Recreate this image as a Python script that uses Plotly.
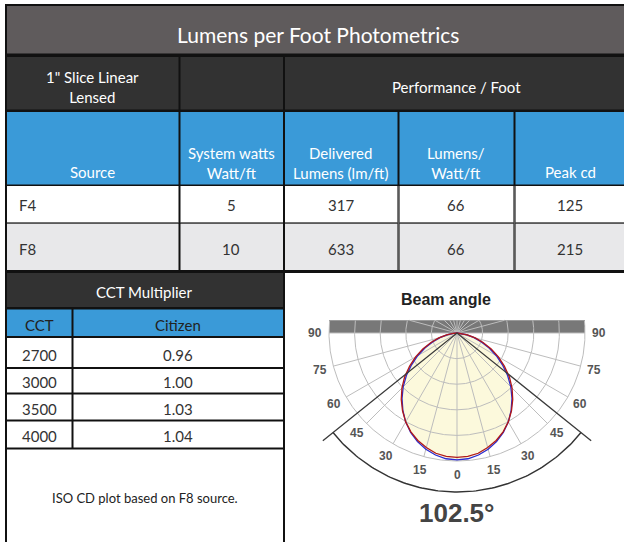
import numpy as np
import plotly.graph_objects as go

# ---------------- data ----------------
title = "Lumens per Foot Photometrics"
product = "1\" Slice Linear<br>Lensed"
group_header = "Performance / Foot"
col_headers = ["Source", "System watts<br>Watt/ft", "Delivered<br>Lumens (lm/ft)", "Lumens/<br>Watt/ft", "Peak cd"]
sources = ["F4", "F8"]
system_watts = [5, 10]
delivered_lumens = [317, 633]
lumens_per_watt = [66, 66]
peak_cd = [125, 215]

cct_title = "CCT Multiplier"
cct_headers = ["CCT", "Citizen"]
cct_values = [2700, 3000, 3500, 4000]
citizen_mult = ["0.96", "1.00", "1.03", "1.04"]
note = "ISO CD plot based on F8 source."

beam_title = "Beam angle"
beam_angle = 102.5
angles_deg = [0, 5, 10, 15, 20, 25, 30, 35, 40, 45, 50, 55, 60, 65, 70, 75, 80, 85, 90]
cd_plane_a = [215, 214, 210, 204, 196, 186, 174, 160, 145, 129, 112, 94, 77, 60, 44, 29, 16, 6, 0]
cd_plane_b = [211, 210, 207, 201, 194, 185, 174, 161, 147, 132, 116, 98, 81, 64, 47, 32, 18, 7, 0]
grid_angle_labels = [0, 15, 30, 45, 60, 75, 90]

# ---------------- layout helpers ----------------
W, H = 624, 542
FONT = "Lato"
shapes, annots = [], []


def px(x):
    return x / W


def py(y):
    return 1 - y / H


def rect(x0, x1, y0, y1, color):
    shapes.append(dict(type="rect", xref="paper", yref="paper", x0=px(x0), x1=px(x1),
                       y0=py(y1), y1=py(y0), fillcolor=color, line_width=0, layer="below"))


def hline(x0, x1, y, color, w):
    shapes.append(dict(type="line", xref="paper", yref="paper", x0=px(x0), x1=px(x1),
                       y0=py(y), y1=py(y), line=dict(color=color, width=w), layer="below"))


def vline(x, y0, y1, color, w):
    shapes.append(dict(type="line", xref="paper", yref="paper", x0=px(x), x1=px(x),
                       y0=py(y0), y1=py(y1), line=dict(color=color, width=w), layer="below"))


def text(x, y, s, size=15, color="#333333", anchor="center", family=FONT, bold=False):
    if bold:
        s = "<b>" + s + "</b>"
    annots.append(dict(xref="paper", yref="paper", x=px(x), y=py(y), text=s, showarrow=False,
                       xanchor=anchor, yanchor="middle",
                       font=dict(family=family, size=size, color=color)))


DARK = "#323232"
TITLE_GRAY = "#5f5b5c"
BLUE = "#3a9ad8"
ROW_GRAY = "#e8e8ea"
WHITE = "#ffffff"

# black background = borders
rect(5, 624, 4, 542, "#111111")
# title row
rect(7, 624, 6, 53.5, TITLE_GRAY)
# dark row
rect(7, 178.5, 57, 109.5, DARK)
rect(180.5, 283, 57, 109.5, DARK)
rect(285, 624, 57, 109.5, DARK)
# blue header row
col_x = [(7, 178.5), (180.5, 283), (285, 397.5), (399.5, 513.5), (515.5, 624)]
for x0, x1 in col_x:
    rect(x0, x1, 112, 184.5, BLUE)
# data rows
for x0, x1 in col_x:
    rect(x0, x1, 186, 222.5, WHITE)
    rect(x0, x1, 224, 270, ROW_GRAY)
# soft inner lines of data rows
for x in (398.5, 514.5):
    vline(x, 186, 270, "#5a5a5a", 1.6)
for (x0, x1) in col_x:
    hline(x0, x1, 223.2, "#5a5a5a", 1.6)
# CCT table
rect(7, 283, 273, 307, DARK)
rect(7, 71.5, 309.5, 336, BLUE)
rect(73.5, 283, 309.5, 336, BLUE)
cct_rows = [(338, 367), (369, 392.5), (394.5, 419.5), (421.5, 447.5)]
for y0, y1 in cct_rows:
    rect(7, 71.5, y0, y1, WHITE)
    rect(73.5, 283, y0, y1, WHITE)
rect(7, 283, 449.5, 542, WHITE)
# right panel
rect(285, 624, 273, 542, WHITE)

# texts
text(318, 34, title, size=21, color="#ffffff")
text(92, 86.5, product, size=15, color="#ffffff")
text(456, 87, group_header, size=15, color="#ffffff")
header_cx = [92, 231, 341, 456, 570]
for cx, h in zip(header_cx, col_headers):
    yc = 172 if "<br>" not in h else 162.5
    text(cx, yc, h, size=15, color="#ffffff")
row_y = [205, 249]
for i, yy in enumerate(row_y):
    text(17, yy, sources[i], size=15, anchor="left")
    text(231, yy, str(system_watts[i]), size=15)
    text(341, yy, str(delivered_lumens[i]), size=15)
    text(456, yy, str(lumens_per_watt[i]), size=15)
    text(570, yy, str(peak_cd[i]), size=15)
text(144, 292, cct_title, size=15, color="#ffffff")
text(39, 325, cct_headers[0], size=15, color="#222222")
text(178, 325, cct_headers[1], size=15, color="#222222")
cct_ty = [355, 382, 409, 436]
for yy, c, m in zip(cct_ty, cct_values, citizen_mult):
    text(39, yy, str(c), size=15)
    text(178, yy, m, size=15)
text(145, 498, note, size=13, color="#222222")
text(446, 299, beam_title, size=16, color="#222222", family="Liberation Sans", bold=True)
text(456, 513, f"{beam_angle}°", size=26, color="#444444", family="Liberation Sans", bold=True)

# ---------------- polar (drawn on a cartesian subplot) ----------------
R = 217.0                 # outer ring value in cd
S = 128.0 / R             # pixels per cd
CX, CY = 457.0, 333.0     # centre in page pixels
dom_x = (288, 622)
dom_y = (276, 540)
xr = [(dom_x[0] - CX) / S, (dom_x[1] - CX) / S]
yr = [(CY - dom_y[1]) / S, (CY - dom_y[0]) / S]
BAR_H = 12.7 / S

fig = go.Figure()

# bar behind the grid
shapes.append(dict(type="rect", xref="x", yref="y", x0=-R, x1=R, y0=0, y1=BAR_H,
                   fillcolor="#787878", line_width=0, layer="below"))

# beam fill
ang = np.radians(np.array(angles_deg, dtype=float))
full_ang = np.concatenate([-ang[::-1], ang[1:]])
a_vals = np.array(cd_plane_a, dtype=float)
b_vals = np.array(cd_plane_b, dtype=float)
a_full = np.concatenate([a_vals[::-1], a_vals[1:]])
b_full = np.concatenate([b_vals[::-1], b_vals[1:]])
ax_ = a_full * np.sin(full_ang)
ay_ = -a_full * np.cos(full_ang)
bx_ = b_full * np.sin(full_ang)
by_ = -b_full * np.cos(full_ang)
fig.add_trace(go.Scatter(x=ax_, y=ay_, mode="lines", fill="toself", fillcolor="#fcf9dc",
                         line=dict(width=0), hoverinfo="skip", showlegend=False))

# grid
gx, gy = [], []
th = np.linspace(0, 2 * np.pi, 721)
for k in range(1, 6):
    r = R * k / 5
    x = r * np.sin(th)
    y = -r * np.cos(th)
    y = np.where(y > BAR_H, np.nan, y)
    x = np.where(np.isnan(y), np.nan, x)
    gx += list(x) + [None]
    gy += list(y) + [None]
for d in range(0, 360, 15):
    phi = np.radians(d)
    dx, dy = np.sin(phi), -np.cos(phi)
    tmax = R
    if dy > 1e-9:
        tmax = min(R, BAR_H / dy)
    gx += [0, tmax * dx, None]
    gy += [0, tmax * dy, None]
fig.add_trace(go.Scatter(x=gx, y=gy, mode="lines", line=dict(color="#bdbdbd", width=1),
                         hoverinfo="skip", showlegend=False, connectgaps=False))

# curves
fig.add_trace(go.Scatter(x=ax_, y=ay_, mode="lines", line=dict(color="#2a2ad0", width=1.3),
                         hoverinfo="skip", showlegend=False))
fig.add_trace(go.Scatter(x=bx_, y=by_, mode="lines", line=dict(color="#b01818", width=1.3),
                         hoverinfo="skip", showlegend=False))

# beam angle lines and arc
half = np.radians(beam_angle / 2)
L = R * 1.344
bxs = [-L * np.sin(half), 0, L * np.sin(half)]
bys = [-L * np.cos(half), 0, -L * np.cos(half)]
fig.add_trace(go.Scatter(x=bxs, y=bys, mode="lines", line=dict(color="#3a3a3a", width=1.3),
                         hoverinfo="skip", showlegend=False))
arc_t = np.linspace(-half, half, 121)
RA = R * 1.242
fig.add_trace(go.Scatter(x=RA * np.sin(arc_t), y=-RA * np.cos(arc_t), mode="lines",
                         line=dict(color="#333333", width=1.4), hoverinfo="skip", showlegend=False))

# angle labels
RL = R * 1.11
for d in grid_angle_labels:
    for sgn in ([1] if d == 0 else [-1, 1]):
        phi = np.radians(d) * sgn
        annots.append(dict(xref="x", yref="y", x=RL * np.sin(phi), y=-RL * np.cos(phi),
                           text=f"<b>{d}</b>", showarrow=False, xanchor="center", yanchor="middle",
                           font=dict(family="Liberation Sans", size=12, color="#555555")))

fig.update_layout(
    width=W, height=H, margin=dict(l=0, r=0, t=0, b=0),
    paper_bgcolor="#ffffff", plot_bgcolor="rgba(0,0,0,0)",
    xaxis=dict(domain=[px(dom_x[0]), px(dom_x[1])], range=xr, visible=False, fixedrange=True),
    yaxis=dict(domain=[py(dom_y[1]), py(dom_y[0])], range=yr, visible=False, fixedrange=True),
    shapes=shapes, annotations=annots, showlegend=False,
)
fig.write_html("out.html", config={"displayModeBar": False},
               post_script="document.body.style.margin='0';document.body.style.overflow='hidden';")
